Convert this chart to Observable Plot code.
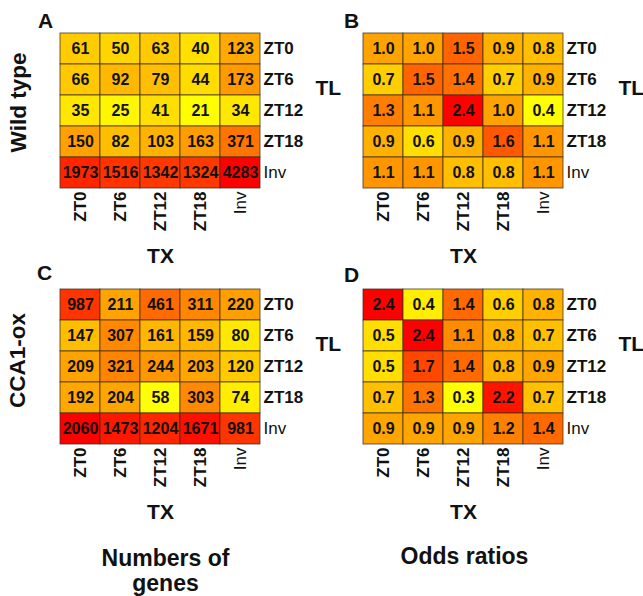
<!DOCTYPE html>
<html>
<head>
<meta charset="utf-8">
<script src="https://cdn.jsdelivr.net/npm/d3@7"></script>
<script src="https://cdn.jsdelivr.net/npm/@observablehq/plot@0.6"></script>
<style>
  body { margin: 0; background: #fff; }
  #wrap { position: relative; width: 643px; height: 596px; overflow: hidden; }
  #wrap svg { position: absolute; }
  g[aria-label="x-axis tick label"] text:last-child,
  g[aria-label="y-axis tick label"] text:last-child { font-weight: normal; }
</style>
</head>
<body>
<div id="wrap"></div>
<script>
// Tick labels (same for TX columns and TL rows)
const ticks = ["ZT0", "ZT6", "ZT12", "ZT18", "Inv"];

// Wild type, numbers of genes (rows = TL, columns = TX)
const wtCounts = [
  [61, 50, 63, 40, 123],
  [66, 92, 79, 44, 173],
  [35, 25, 41, 21, 34],
  [150, 82, 103, 163, 371],
  [1973, 1516, 1342, 1324, 4283]
];
// Wild type, odds ratios
const wtOdds = [
  [1.0, 1.0, 1.5, 0.9, 0.8],
  [0.7, 1.5, 1.4, 0.7, 0.9],
  [1.3, 1.1, 2.4, 1.0, 0.4],
  [0.9, 0.6, 0.9, 1.6, 1.1],
  [1.1, 1.1, 0.8, 0.8, 1.1]
];
// CCA1-ox, numbers of genes
const oxCounts = [
  [987, 211, 461, 311, 220],
  [147, 307, 161, 159, 80],
  [209, 321, 244, 203, 120],
  [192, 204, 58, 303, 74],
  [2060, 1473, 1204, 1671, 981]
];
// CCA1-ox, odds ratios
const oxOdds = [
  [2.4, 0.4, 1.4, 0.6, 0.8],
  [0.5, 2.4, 1.1, 0.8, 0.7],
  [0.5, 1.7, 1.4, 0.8, 0.9],
  [0.7, 1.3, 0.3, 2.2, 0.7],
  [0.9, 0.9, 0.9, 1.2, 1.4]
];

const panelLetters = ["A", "B", "C", "D"];
const genotypes = ["Wild type", "CCA1-ox"];
const footers = ["Numbers of\ngenes", "Odds ratios"];

const FONT = "'Liberation Sans', Arial, Helvetica, sans-serif";

function toRows(m) {
  return m.flatMap((row, i) => row.map((v, j) => ({tl: ticks[i], tx: ticks[j], v})));
}

function label(txt, opts) {
  return Plot.text([txt], {text: d => d, textAnchor: "middle", lineAnchor: "middle", fontWeight: "bold", fill: "#111", ...opts});
}

function panel(cfg) {
  const data = toRows(cfg.values);
  const flat = cfg.values.flat();
  const marks = [
    Plot.cell(data, {x: "tx", y: "tl", fill: "v", stroke: "#3b2b1b", strokeOpacity: 0.75, strokeWidth: 1}),
    Plot.text(data, {x: "tx", y: "tl", text: d => cfg.fmt(d.v), fontSize: 16, fontWeight: "bold", fill: "#111"}),
    Plot.axisX({anchor: "bottom", tickRotate: -90, tickSize: 0, tickPadding: 3, fontSize: 17, fontWeight: "bold", label: null, fill: "#111"}),
    Plot.axisY({anchor: "right", tickSize: 0, tickPadding: 2, fontSize: 17, fontWeight: "bold", label: null, fill: "#111"}),
    label("TX", {frameAnchor: "bottom", dy: 68, fontSize: 21}),
    label("TL", {frameAnchor: "right", textAnchor: "start", dx: 54, dy: -22, fontSize: 21}),
    label(cfg.letter, {frameAnchor: "top-left", dx: cfg.letterDx, dy: cfg.letterDy, fontSize: 21})
  ];
  if (cfg.side) marks.push(label(cfg.side, {frameAnchor: "left", rotate: -90, dx: cfg.sideDx, dy: cfg.sideDy, fontSize: 22.5}));
  if (cfg.footer) marks.push(label(cfg.footer, {frameAnchor: "bottom", dx: cfg.footDx, dy: cfg.footDy, fontSize: 23, lineHeight: 1.08}));
  const colorScale = cfg.log
    ? {type: "log", domain: [d3.min(flat), d3.max(flat)], range: ["#ffff00", "#ff0000"], interpolate: "rgb"}
    : {type: "pow", exponent: 0.7, domain: [d3.min(flat), d3.max(flat)], range: ["#ffff00", "#ff0000"], interpolate: "rgb"};
  const svg = Plot.plot({
    width: cfg.width, height: cfg.height,
    marginTop: cfg.mt, marginLeft: cfg.ml, marginRight: cfg.width - cfg.ml - 202, marginBottom: cfg.height - cfg.mt - 156,
    x: {domain: ticks, padding: 0, axis: null},
    y: {domain: ticks, padding: 0, axis: null},
    color: colorScale,
    style: {fontFamily: FONT, background: "transparent", overflow: "visible"},
    marks
  });
  svg.style.left = cfg.left + "px";
  svg.style.top = cfg.top + "px";
  return svg;
}

const f0 = d3.format("d");
const f1 = d3.format(".1f");
const wrap = document.getElementById("wrap");

wrap.appendChild(panel({values: wtCounts, fmt: f0, log: true, left: 0, top: 0, width: 345, height: 268, mt: 32, ml: 59,
  letter: panelLetters[0], letterDx: -14, letterDy: -11, side: genotypes[0], sideDx: -41, sideDy: -8}));
wrap.appendChild(panel({values: wtOdds, fmt: f1, log: false, left: 300, top: 0, width: 343, height: 268, mt: 32, ml: 62,
  letter: panelLetters[1], letterDx: -11, letterDy: -11}));
wrap.appendChild(panel({values: oxCounts, fmt: f0, log: true, left: 0, top: 256, width: 345, height: 340, mt: 32, ml: 59,
  letter: panelLetters[2], letterDx: -15, letterDy: -15, side: genotypes[1], sideDx: -42, sideDy: -6,
  footer: footers[0], footDx: 5, footDy: 126}));
wrap.appendChild(panel({values: oxOdds, fmt: f1, log: false, left: 300, top: 256, width: 343, height: 340, mt: 32, ml: 62,
  letter: panelLetters[3], letterDx: -11, letterDy: -13,
  footer: footers[1], footDx: 1, footDy: 112}));
</script>
</body>
</html>
